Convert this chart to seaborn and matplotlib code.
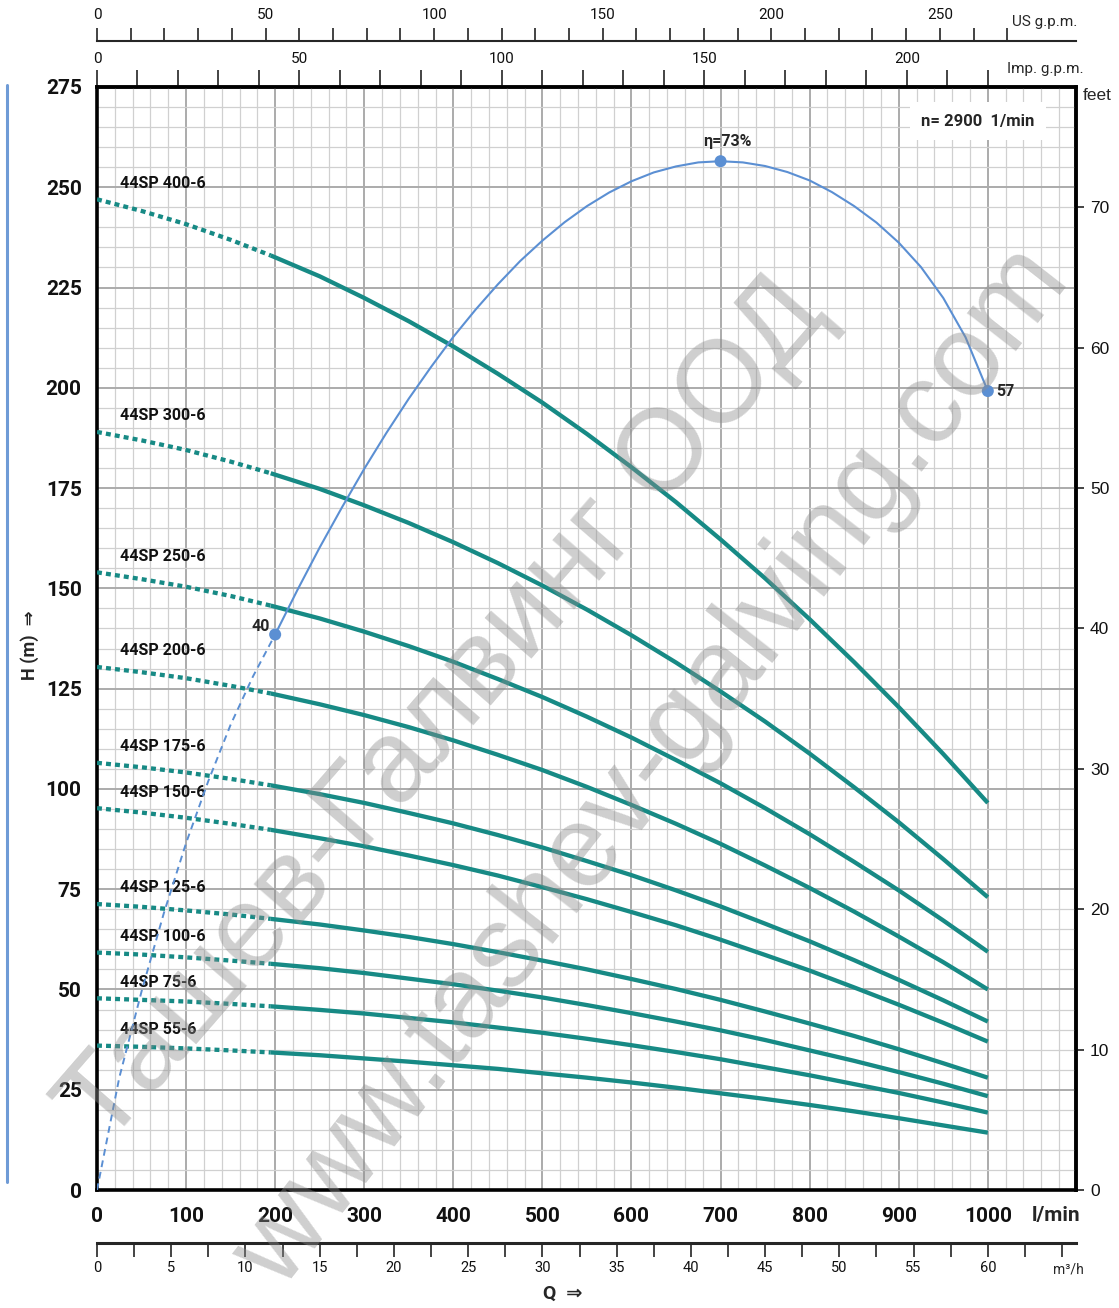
import matplotlib
matplotlib.use("Agg")
import numpy as np
import pandas as pd
import seaborn as sns
import matplotlib.pyplot as plt
from matplotlib.lines import Line2D
from matplotlib import font_manager

# ---------------- data ----------------
flow_lmin = [0, 50, 100, 150, 195, 250, 300, 350, 400, 450, 500, 550, 600,
             650, 700, 750, 800, 850, 900, 950, 1000]
n_dotted = 5  # first points (0..195 l/min) drawn dotted

pump_names = ["44SP 400-6", "44SP 300-6", "44SP 250-6", "44SP 200-6", "44SP 175-6",
              "44SP 150-6", "44SP 125-6", "44SP 100-6", "44SP 75-6", "44SP 55-6"]
h_400 = [247, 244.1, 240.8, 236.9, 233.0, 227.8, 222.4, 216.6, 210.3, 203.5, 196.3, 188.5, 180.2,
         171.5, 162.2, 152.5, 142.3, 131.6, 120.4, 108.7, 96.5]
h_300 = [189, 186.9, 184.5, 181.6, 178.7, 174.8, 170.7, 166.3, 161.5, 156.3, 150.7, 144.7, 138.3,
         131.5, 124.3, 116.8, 108.8, 100.4, 91.7, 82.5, 73.0]
h_250 = [154, 152.3, 150.4, 148.1, 145.7, 142.5, 139.2, 135.6, 131.7, 127.4, 122.9, 118.0, 112.8,
         107.2, 101.4, 95.2, 88.7, 81.8, 74.7, 67.2, 59.4]
h_200 = [130.4, 129.1, 127.6, 125.7, 123.8, 121.1, 118.4, 115.4, 112.1, 108.5, 104.7, 100.5, 96.0,
         91.3, 86.3, 80.9, 75.3, 69.4, 63.2, 56.8, 50.0]
h_175 = [106.5, 105.4, 104.1, 102.5, 100.9, 98.7, 96.5, 94.0, 91.4, 88.5, 85.4, 82.0, 78.5,
         74.7, 70.7, 66.4, 62.0, 57.3, 52.4, 47.3, 42.0]
h_150 = [95.2, 94.1, 92.8, 91.3, 89.8, 87.7, 85.7, 83.4, 81.0, 78.4, 75.5, 72.5, 69.3,
         66.0, 62.4, 58.6, 54.7, 50.5, 46.2, 41.7, 37.0]
h_125 = [71.3, 70.6, 69.7, 68.7, 67.6, 66.2, 64.7, 63.1, 61.3, 59.3, 57.2, 55.0, 52.6,
         50.1, 47.4, 44.5, 41.5, 38.4, 35.1, 31.6, 28.0]
h_100 = [59.2, 58.7, 58.0, 57.2, 56.4, 55.3, 54.1, 52.7, 51.3, 49.7, 48.0, 46.1, 44.1,
         42.0, 39.8, 37.4, 34.8, 32.2, 29.4, 26.5, 23.4]
h_75 = [47.8, 47.4, 47.0, 46.4, 45.8, 44.9, 44.0, 42.9, 41.8, 40.5, 39.2, 37.7, 36.1,
        34.4, 32.6, 30.6, 28.6, 26.4, 24.2, 21.8, 19.3]
h_55 = [36.0, 35.7, 35.3, 34.8, 34.3, 33.6, 32.8, 32.0, 31.1, 30.2, 29.1, 28.0, 26.8,
        25.5, 24.1, 22.7, 21.2, 19.6, 17.9, 16.1, 14.3]
pump_heads = [h_400, h_300, h_250, h_200, h_175, h_150, h_125, h_100, h_75, h_55]

eff_dash_q = [0, 25, 50, 75, 100, 125, 150, 175, 200]
eff_dash_h = [0, 28, 49.5, 69, 86.5, 102, 116, 128, 138.5]
eff_q = [200, 225, 250, 275, 300, 325, 350, 375, 400, 425, 450, 475, 500, 525, 550, 575, 600,
         625, 650, 675, 700, 725, 750, 775, 800, 825, 850, 875, 900, 925, 950, 975, 1000]
eff_h = [138.5, 149.6, 160.2, 170.2, 179.8, 188.8, 197.3, 205.2, 212.7, 219.5, 225.8, 231.6, 236.7,
         241.3, 245.3, 248.7, 251.5, 253.7, 255.2, 256.2, 256.5, 256.2, 255.3, 253.8, 251.7,
         248.8, 245.3, 241.2, 236.2, 230.1, 222.4, 212.6, 199.2]
eff_pt_q = [200, 700, 1000]
eff_pt_h = [138.5, 256.5, 199.2]
eff_pt_label = ["40", "η=73%", "57"]

lmin_ticks = list(range(0, 1001, 100))
head_ticks = list(range(0, 276, 25))
feet_ticks = list(range(0, 71, 10))
imp_ticks = list(range(0, 221, 10))
us_ticks = list(range(0, 271, 10))
m3h_ticks = list(np.arange(0, 65.1, 2.5))

# ---------------- style ----------------
sns.set_theme(style="white")
names = {f.name for f in font_manager.fontManager.ttflist}
COND = "Roboto" if "Roboto" in names else "DejaVu Sans"
REG = "Liberation Sans" if "Liberation Sans" in names else "DejaVu Sans"
FAM = [COND, "DejaVu Sans"]
plt.rcParams["font.family"] = FAM

TEAL = "#178a85"
EFF = "#5b8fd3"
W, H = 1119, 1308


def px(x, y):
    return x / W, 1 - y / H


fig = plt.figure(figsize=(W / 100, H / 100), dpi=100)
ax = fig.add_axes([97 / W, 1 - 1190 / H, 979 / W, 1103 / H])
ax.set_xlim(0, 1099)
ax.set_ylim(0, 275)
ax.set_axisbelow(True)

# grid
ax.xaxis.set_minor_locator(matplotlib.ticker.MultipleLocator(20))
ax.yaxis.set_minor_locator(matplotlib.ticker.MultipleLocator(5))
ax.grid(True, which="major", color="#ababab", lw=1.4)
ax.grid(True, which="minor", color="#d0d0d0", lw=0.9)

# pump curves
for name, h in zip(pump_names, pump_heads):
    df = pd.DataFrame({"Q": flow_lmin, "H": h})
    sns.lineplot(data=df.iloc[:n_dotted], x="Q", y="H", ax=ax, color=TEAL, lw=3.1,
                 linestyle=(0, (1.15, 0.95)), zorder=3)
    sns.lineplot(data=df.iloc[n_dotted - 1:], x="Q", y="H", ax=ax, color=TEAL, lw=3.1,
                 solid_capstyle="butt", solid_joinstyle="round", zorder=3)
    ax.text(26, h[0] + 4, name, ha="left", va="center", fontsize=11.5,
            fontweight="bold", color="#111111", zorder=4)

# efficiency curve
sns.lineplot(x=eff_dash_q, y=eff_dash_h, ax=ax, color=EFF, lw=1.4,
             linestyle=(0, (3.5, 2.5)), zorder=4)
sns.lineplot(x=eff_q, y=eff_h, ax=ax, color=EFF, lw=1.5, zorder=4)
sns.scatterplot(x=eff_pt_q, y=eff_pt_h, ax=ax, color=EFF, s=75, edgecolor="none", zorder=5)
offsets = [(-4, 6, "right"), (5, 14, "center"), (6, 0, "left")]
for q, hh, lab, (dx, dy, ha) in zip(eff_pt_q, eff_pt_h, eff_pt_label, offsets):
    ax.annotate(lab, (q, hh), xytext=(dx, dy), textcoords="offset points",
                ha=ha, va="center", fontsize=11.5, fontweight="bold", zorder=6)

ax.text(989, 266.5, "n= 2900  1/min", ha="center", va="center", fontsize=12,
        fontweight="bold", zorder=6,
        bbox=dict(facecolor="white", edgecolor="none", pad=8))

ax.set_xlabel("")
ax.set_ylabel("")

# main axes ticks
ax.set_xticks(lmin_ticks)
ax.set_xticklabels([str(t) for t in lmin_ticks], fontweight="bold", fontsize=15)
ax.set_yticks(head_ticks)
ax.set_yticklabels([str(t) for t in head_ticks], fontweight="bold", fontsize=15)
ax.tick_params(axis="x", which="both", length=0, pad=12, colors="#111111")
ax.tick_params(axis="y", which="both", length=0, pad=11, colors="#111111")
for sp in ax.spines.values():
    sp.set_visible(True)
    sp.set_color("black")
    sp.set_linewidth(2.6)

# right axis (feet)
sec_r = ax.secondary_yaxis("right", functions=(lambda h: h / 3.5, lambda f: f * 3.5))
sec_r.set_yticks(feet_ticks, [str(t) for t in feet_ticks], fontsize=12.5, family=[REG, "DejaVu Sans"])
sec_r.tick_params(length=6, width=1.1, pad=4, colors="#111111")
sec_r.spines["right"].set_linewidth(2.6)

# top imperial gpm
sec_imp = ax.secondary_xaxis("top", functions=(lambda q: q / 4.546, lambda g: g * 4.546))
sec_imp.set_xticks(imp_ticks, [str(t) if t % 50 == 0 else "" for t in imp_ticks], fontsize=11)
sec_imp.tick_params(length=12, width=1.1, pad=3, colors="#111111")
sec_imp.spines["top"].set_linewidth(2.6)

# top US gpm
sec_us = ax.secondary_xaxis(1 + 46 / 1103, functions=(lambda q: q / 3.785, lambda g: g * 3.785))
sec_us.set_xticks(us_ticks, [str(t) if t % 50 == 0 else "" for t in us_ticks], fontsize=11)
sec_us.tick_params(length=9.5, width=1.1, pad=4, colors="#111111")
sec_us.spines["top"].set_linewidth(1.5)

# bottom m3/h
sec_m3 = ax.secondary_xaxis(-53 / 1103, functions=(lambda q: q * 0.06, lambda m: m / 0.06))
sec_m3.set_xticks(m3h_ticks, [str(int(t)) if (t % 5 == 0 and t <= 60) else "" for t in m3h_ticks],
                  fontsize=10.5)
sec_m3.tick_params(length=10, width=1.1, pad=3, colors="#111111")
sec_m3.spines["bottom"].set_linewidth(2.2)

# axis texts
fig.text(*px(1012, 22), "US g.p.m.", ha="left", va="center", fontsize=11)
fig.text(*px(1007, 69), "Imp. g.p.m.", ha="left", va="center", fontsize=11)
fig.text(*px(1097, 95), "feet", ha="center", va="center", fontsize=12.5, family=[REG, "DejaVu Sans"])
fig.text(*px(1032, 1216), "l/min", ha="left", va="center", fontsize=15, fontweight="bold")
fig.text(*px(1053, 1269), "m³/h", ha="left", va="center", fontsize=10)
fig.text(*px(563, 1294), "Q  ⇒", ha="center", va="center", fontsize=14, fontweight="bold")
fig.text(*px(30, 645), "H (m)  ⇒", ha="center", va="center", fontsize=13, fontweight="bold",
         rotation=90)

# left decorative rule
fig.add_artist(Line2D([7 / W, 7 / W], [1 - 85 / H, 1 - 1182 / H], color="#6f9bd6", lw=2.2))

# watermark
fig.text(*px(445, 712), "Ташев-Галвинг ООД", rotation=49, fontsize=84, color="#8c8c8c",
         alpha=0.42, ha="center", va="center", family=[REG, "DejaVu Sans"],
         rotation_mode="anchor", zorder=10)
fig.text(*px(652, 768), "www.tashev-galving.com", rotation=52, fontsize=84, color="#8c8c8c",
         alpha=0.42, ha="center", va="center", family=[REG, "DejaVu Sans"],
         rotation_mode="anchor", zorder=10)

fig.savefig("out.png", dpi=100)
